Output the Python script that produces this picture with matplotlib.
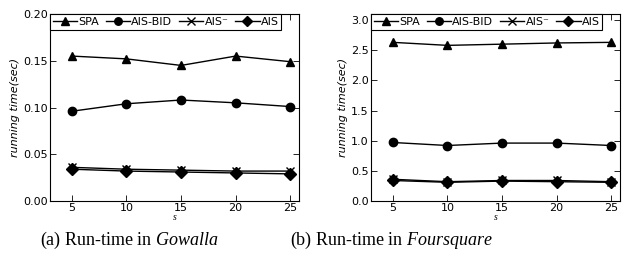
import matplotlib
matplotlib.use("Agg")
import matplotlib.pyplot as plt
from matplotlib.ticker import FormatStrFormatter

plt.rcParams["mathtext.fontset"] = "custom"
plt.rcParams["mathtext.rm"] = "Liberation Serif"
plt.rcParams["mathtext.it"] = "Liberation Serif:italic"

s_values = [5, 10, 15, 20, 25]

gowalla_spa = [0.155, 0.152, 0.145, 0.155, 0.149]
gowalla_bid = [0.096, 0.104, 0.108, 0.105, 0.101]
gowalla_aism = [0.036, 0.034, 0.033, 0.032, 0.032]
gowalla_ais = [0.034, 0.032, 0.031, 0.030, 0.029]

four_spa = [2.63, 2.58, 2.60, 2.62, 2.63]
four_bid = [0.97, 0.92, 0.96, 0.96, 0.92]
four_aism = [0.36, 0.32, 0.34, 0.34, 0.32]
four_ais = [0.34, 0.31, 0.33, 0.32, 0.31]

labels = ["SPA", "AIS-BID", "AIS\u207b", "AIS"]
markers = ["^", "o", "x", "D"]

W, H = 629, 261
fig = plt.figure(figsize=(W / 100, H / 100), dpi=100)

def make_axes(px_left, px_right, px_top, px_bottom):
    return fig.add_axes([px_left / W, 1 - px_bottom / H,
                         (px_right - px_left) / W, (px_bottom - px_top) / H])

ax1 = make_axes(50, 299, 14, 201)
ax2 = make_axes(371, 620, 14, 201)

def draw(ax, series, ylim, yticks, fmt):
    for vals, lab, mk in zip(series, labels, markers):
        ax.plot(s_values, vals, color="black", lw=1.0, marker=mk,
                ms=6, mew=1.0, label=lab)
    ax.set_xlim(3, 25.8)
    ax.set_ylim(*ylim)
    ax.set_xticks(s_values)
    ax.set_yticks(yticks)
    ax.yaxis.set_major_formatter(FormatStrFormatter(fmt))
    ax.tick_params(direction="in", top=True, right=True, labelsize=8,
                   length=4, width=0.6, pad=1.5)
    for sp in ax.spines.values():
        sp.set_linewidth(0.8)
    ax.set_ylabel("running time(sec)", fontsize=8, style="italic", labelpad=2)
    ax.set_xlabel("$s$", fontsize=7, labelpad=-1)
    leg = ax.legend(loc="upper left", ncol=4, fontsize=8, frameon=True,
                    fancybox=False, edgecolor="black", framealpha=1,
                    handlelength=2.2, handletextpad=0.1, columnspacing=0.6,
                    borderpad=0.25, borderaxespad=0.0, markerscale=0.9)
    leg.get_frame().set_linewidth(0.8)

draw(ax1, [gowalla_spa, gowalla_bid, gowalla_aism, gowalla_ais], (0, 0.20),
     [0.0, 0.05, 0.10, 0.15, 0.20], "%.2f")
draw(ax2, [four_spa, four_bid, four_aism, four_ais], (0, 3.1),
     [0.0, 0.5, 1.0, 1.5, 2.0, 2.5, 3.0], "%.1f")

cap_font = "Liberation Serif"
fig.text(129 / W, 1 - 240 / H, "(a) Run-time in $\\mathit{Gowalla}$", ha="center",
         va="center", fontsize=13, family=cap_font)
fig.text(392 / W, 1 - 240 / H, "(b) Run-time in $\\mathit{Foursquare}$", ha="center",
         va="center", fontsize=13, family=cap_font)

fig.savefig("out.png", dpi=100)
